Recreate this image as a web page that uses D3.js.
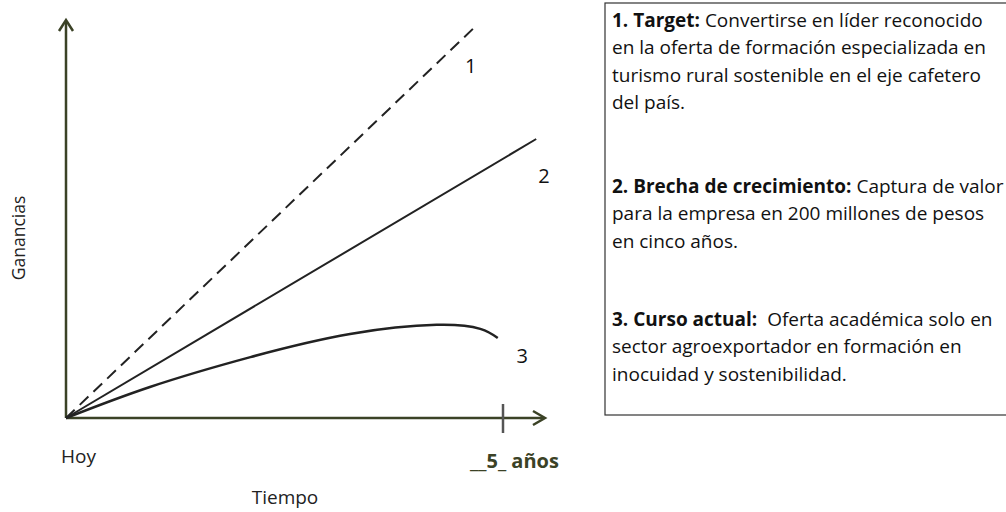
<!DOCTYPE html>
<html>
<head>
<meta charset="utf-8">
<script src="https://cdn.jsdelivr.net/npm/d3@7"></script>
<style>
  body { margin: 0; background: #fff; }
  svg { display: block; }
</style>
</head>
<body>
<svg width="1006" height="512"></svg>
<script>
// data, in years / arbitrary earnings units
const years = [0, 5];
const yearLabel = "__5_ años";
const target = [[0, 0], [4.69, 98.5]];
const brecha = [[0, 0], [5.38, 70.1]];
const cursoActual = [[0, 0], [0.96, 7.8], [2.11, 15.3], [3.25, 21.1], [4.24, 23.4], [4.74, 22.4], [4.94, 20.1]];
const lineLabels = ["1", "2", "3"];
const labelPos = [[4.63, 86.7], [5.47, 59.0], [5.22, 13.8]];

const boxTexts = [
  [["1. Target:", "Convertirse en líder reconocido"], ["", "en la oferta de formación especializada en"], ["", "turismo rural sostenible en el eje cafetero"], ["", "del país."]],
  [["2. Brecha de crecimiento:", "Captura de valor"], ["", "para la empresa en 200 millones de pesos"], ["", "en cinco años."]],
  [["3. Curso actual:", "\u00a0Oferta académica solo en"], ["", "sector agroexportador en formación en"], ["", "inocuidad y sostenibilidad."]]
];

const svg = d3.select("svg");
const axisColor = "#3b4226";
const font = "'Open Sans', sans-serif";

const x = d3.scaleLinear().domain([0, 5]).range([66, 503]);
const y = d3.scaleLinear().domain([0, 100]).range([418, 20]);

// axes
const g = svg.append("g");
g.append("line")
  .attr("x1", x(0)).attr("y1", y(0))
  .attr("x2", x(0)).attr("y2", y(100) + 1)
  .attr("stroke", axisColor).attr("stroke-width", 2.5);
g.append("line")
  .attr("x1", x(0)).attr("y1", y(0))
  .attr("x2", 544).attr("y2", y(0))
  .attr("stroke", axisColor).attr("stroke-width", 2.5);

// arrow heads
g.append("path")
  .attr("d", `M${x(0) - 7},${y(100) + 11}L${x(0)},${y(100)}L${x(0) + 7},${y(100) + 11}`)
  .attr("fill", "none").attr("stroke", axisColor).attr("stroke-width", 2.5);
g.append("path")
  .attr("d", `M533,${y(0) - 7}L545,${y(0)}L533,${y(0) + 7}`)
  .attr("fill", "none").attr("stroke", axisColor).attr("stroke-width", 2.5);

// tick at 5 years
g.append("line")
  .attr("x1", x(years[1])).attr("x2", x(years[1]))
  .attr("y1", y(0) - 14).attr("y2", y(0) + 15)
  .attr("stroke", "#555").attr("stroke-width", 2.5);

const line = d3.line().x(d => x(d[0])).y(d => y(d[1]));

g.append("path")
  .attr("d", line(target))
  .attr("fill", "none").attr("stroke", "#222").attr("stroke-width", 2)
  .attr("stroke-dasharray", "12,7");
g.append("path")
  .attr("d", line(brecha))
  .attr("fill", "none").attr("stroke", "#222").attr("stroke-width", 2);
g.append("path")
  .attr("d", line.curve(d3.curveNatural)(cursoActual))
  .attr("fill", "none").attr("stroke", "#222").attr("stroke-width", 2.5);

g.selectAll(".lbl")
  .data(lineLabels)
  .join("text")
  .attr("x", (d, i) => x(labelPos[i][0]))
  .attr("y", (d, i) => y(labelPos[i][1]))
  .attr("text-anchor", "middle")
  .attr("font-family", font)
  .attr("font-size", 20)
  .attr("fill", "#111")
  .text(d => d);

// axis labels
svg.append("text")
  .attr("x", 61).attr("y", 463)
  .attr("font-family", font).attr("font-size", 19).attr("fill", "#222")
  .text("Hoy");
svg.append("text")
  .attr("x", 285).attr("y", 504)
  .attr("text-anchor", "middle")
  .attr("font-family", font).attr("font-size", 19).attr("fill", "#222")
  .text("Tiempo");
svg.append("text")
  .attr("transform", "translate(25,238) rotate(-90)")
  .attr("text-anchor", "middle")
  .attr("font-family", font).attr("font-size", 17.5).attr("fill", "#222")
  .text("Ganancias");
svg.append("text")
  .attr("x", 470).attr("y", 468)
  .attr("font-family", font).attr("font-size", 20).attr("font-weight", "bold")
  .attr("fill", "#3b4226")
  .text(yearLabel);

// text box
svg.append("rect")
  .attr("x", 605).attr("y", 3)
  .attr("width", 420).attr("height", 412)
  .attr("fill", "#fff").attr("stroke", "#333").attr("stroke-width", 1.2);

const blockTop = [27, 193, 326];
const lh = 27.3;
boxTexts.forEach((block, bi) => {
  block.forEach((ln, li) => {
    const t = svg.append("text")
      .attr("x", 612)
      .attr("y", blockTop[bi] + li * lh)
      .attr("font-family", font)
      .attr("font-size", 19)
      .attr("fill", "#111");
    if (ln[0]) t.append("tspan").attr("font-weight", "bold").text(ln[0] + " ");
    t.append("tspan").text(ln[1]);
  });
});
</script>
</body>
</html>
